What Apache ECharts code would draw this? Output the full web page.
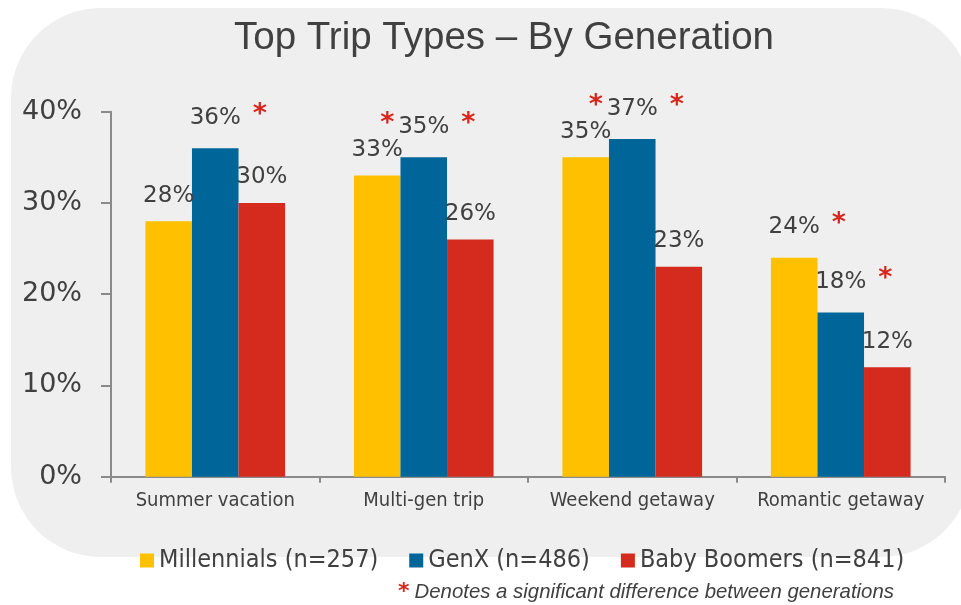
<!DOCTYPE html>
<html>
<head>
<meta charset="utf-8">
<script src="https://cdn.jsdelivr.net/npm/echarts@6/dist/echarts.min.js"></script>
<style>
  html, body { margin: 0; padding: 0; background: #fff; }
  #chart { width: 961px; height: 605px; }
</style>
</head>
<body>
<div id="chart"></div>
<script>
var categories = ['Summer vacation', 'Multi-gen trip', 'Weekend getaway', 'Romantic getaway'];
var seriesNames = ['Millennials (n=257)', 'GenX (n=486)', 'Baby Boomers (n=841)'];
var millennials = [28, 33, 35, 24];
var genx = [36, 35, 37, 18];
var boomers = [30, 26, 23, 12];
// significance markers: '' none, 'after' star right of label, 'both' star on each side
var millennialsSig = ['', '', '', 'after'];
var genxSig = ['after', 'both', 'both', 'after'];
var boomersSig = ['', '', '', ''];
var yTicks = [0, 10, 20, 30, 40];

var textColor = '#404040';
var starColor = '#d9261c';
var colors = ['#ffc000', '#006699', '#d52b1e'];

function makeLabel(sig) {
    return {
        show: true,
        position: 'top',
        distance: 14,
        formatter: function (p) {
            var v = '{v|' + p.value + '%}';
            var s = sig[p.dataIndex];
            if (s === 'after') return '{pl|}{bl|}' + v + '{rs|*}';
            if (s === 'both') return '{pl|}{ls|*}' + v + '{rs|*}';
            return v;
        },
        rich: {
            v: { fontFamily: 'DejaVu Sans', fontSize: 23, color: textColor },
            pl: { width: 16 },
            bl: { width: 22 },
            ls: { width: 22, fontFamily: 'DejaVu Sans', fontWeight: 'bold', fontSize: 27, color: starColor, padding: [0, 0, 6, 0] },
            rs: { width: 38, fontFamily: 'DejaVu Sans', fontWeight: 'bold', fontSize: 27, color: starColor, padding: [0, 0, 6, 0] }
        }
    };
}

function makeSeries(name, values, sig, color) {
    return {
        name: name,
        type: 'bar',
        data: values,
        barGap: '0%',
        barCategoryGap: '33%',
        itemStyle: { color: color },
        label: makeLabel(sig)
    };
}

var chart = echarts.init(document.getElementById('chart'));
var option = {
    animation: false,
    color: colors,
    graphic: [{
        type: 'rect',
        z: -10,
        silent: true,
        shape: { x: 11, y: 8, width: 960, height: 549, r: 90 },
        style: { fill: '#efefef' }
    }],
    title: [{
        text: 'Top Trip Types \u2013 By Generation',
        left: 229,
        top: 14,
        textStyle: { fontFamily: 'Liberation Sans', fontSize: 38.5, fontWeight: 'normal', color: textColor }
    }, {
        text: '{s|*} {t|Denotes a significant difference between generations}',
        left: 393,
        top: 576,
        textStyle: {
            fontWeight: 'normal',
            rich: {
                s: { fontFamily: 'DejaVu Sans', fontWeight: 'bold', fontSize: 22, color: starColor },
                t: { fontFamily: 'Liberation Sans', fontStyle: 'italic', fontWeight: 'normal', fontSize: 20.4, color: textColor }
            }
        }
    }],
    legend: {
        left: 135,
        top: 543,
        itemWidth: 14,
        itemHeight: 14,
        itemGap: 31,
        icon: 'rect',
        textStyle: { fontFamily: 'DejaVu Sans Condensed', fontSize: 25, color: textColor },
        data: seriesNames
    },
    grid: { left: 111, right: 16, top: 111.7, bottom: 128.3, containLabel: false },
    xAxis: {
        type: 'category',
        data: categories,
        axisLine: { lineStyle: { color: '#8a8a8a', width: 2 } },
        axisTick: { show: true, length: 6, lineStyle: { color: '#8a8a8a', width: 2 } },
        axisLabel: { interval: 0, margin: 14, fontFamily: 'DejaVu Sans Condensed', fontSize: 20, color: textColor }
    },
    yAxis: {
        type: 'value',
        min: yTicks[0],
        max: yTicks[yTicks.length - 1],
        interval: yTicks[1] - yTicks[0],
        axisLine: { show: true, lineStyle: { color: '#8a8a8a', width: 2 } },
        axisTick: { show: true, length: 10, lineStyle: { color: '#8a8a8a', width: 2 } },
        splitLine: { show: false },
        axisLabel: { margin: 29, formatter: '{value}%', fontFamily: 'DejaVu Sans', fontSize: 27, color: textColor }
    },
    series: [
        makeSeries(seriesNames[0], millennials, millennialsSig, colors[0]),
        makeSeries(seriesNames[1], genx, genxSig, colors[1]),
        makeSeries(seriesNames[2], boomers, boomersSig, colors[2])
    ]
};
chart.setOption(option);
</script>
</body>
</html>
